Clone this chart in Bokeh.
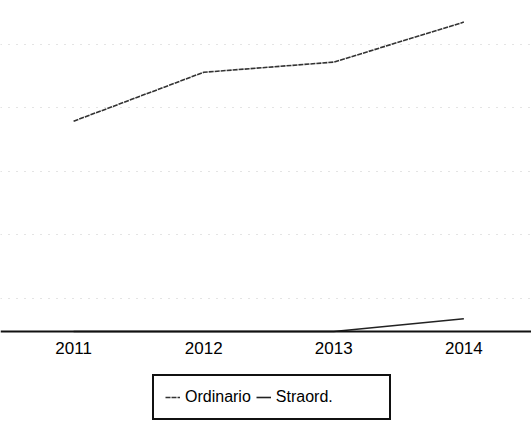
from bokeh.plotting import figure
from bokeh.models import Legend, LegendItem, FixedTicker, Range1d
from bokeh.embed import file_html
from bokeh.resources import INLINE

years = [2011, 2012, 2013, 2014]
year_labels = ["2011", "2012", "2013", "2014"]
ordinario = [331, 408, 424, 487]
straord = [0, 0, 0, 20]
grid_values = [52, 152, 252, 352, 452]

p = figure(width=531, height=421, output_backend="svg", toolbar_location=None,
           x_range=Range1d(2010.438, 2014.52), y_range=Range1d(-141.7, 521),
           min_border_left=0, min_border_right=0, min_border_top=0, min_border_bottom=0)
p.outline_line_color = None
p.background_fill_color = "white"

r1 = p.line(years, ordinario, line_color="#333333", line_width=1.6, line_dash="5 1")
r2 = p.line(years, straord, line_color="#222222", line_width=1.6)
spacer = p.line([], [], line_alpha=0)

p.yaxis.visible = False
p.xaxis.fixed_location = 0
p.xaxis.ticker = FixedTicker(ticks=years)
p.xaxis.major_label_overrides = {y: l for y, l in zip(years, year_labels)}
p.xaxis.major_tick_line_color = None
p.xaxis.minor_tick_line_color = None
p.xaxis.axis_line_color = "#111111"
p.xaxis.axis_line_width = 2
p.xaxis.major_label_standoff = 5
p.xaxis.major_label_text_font = "Liberation Sans"
p.xaxis.major_label_text_font_size = "17px"
p.xaxis.major_label_text_color = "#000000"

p.xgrid.grid_line_color = None
p.ygrid.ticker = FixedTicker(ticks=grid_values)
p.ygrid.grid_line_color = "#888888"
p.ygrid.grid_line_alpha = 0.45
p.ygrid.grid_line_dash = "1 7"

legend = Legend(items=[LegendItem(label="Ordinario", renderers=[r1]),
                       LegendItem(label="Straord.", renderers=[r2]),
                       LegendItem(label=" ", renderers=[spacer])],
                orientation="horizontal", location=(152, 1),
                border_line_color="#111111", border_line_width=2, border_line_alpha=1,
                label_text_font="Liberation Sans", label_text_font_size="16px",
                label_text_color="#000000", glyph_width=15, label_standoff=5,
                spacing=5, padding=11, margin=0, background_fill_alpha=1)
p.add_layout(legend, "center")

open("out.html", "w").write(file_html(p, INLINE))
